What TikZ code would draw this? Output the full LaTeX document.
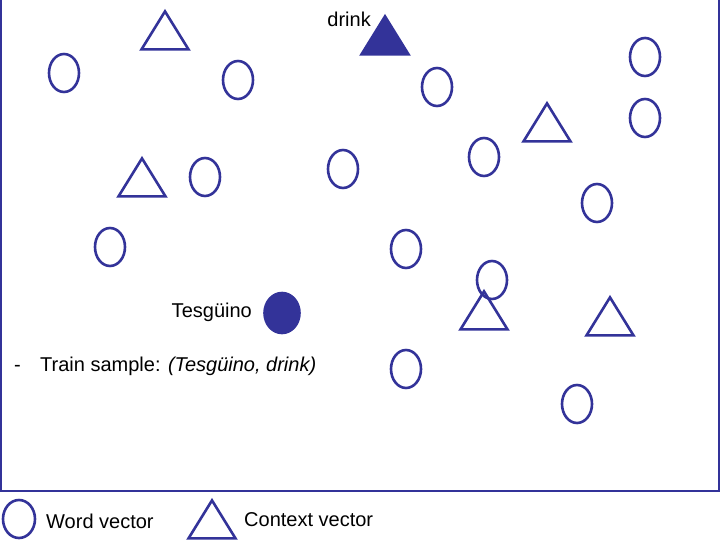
\documentclass[tikz,border=0pt]{standalone}
\usepackage{fontspec}
\setmainfont{Liberation Sans}
\usepackage{tikz}
\usetikzlibrary{shapes.geometric}
\definecolor{vecblue}{HTML}{333399}
\tikzset{
  wvec/.style  = {ellipse, draw=vecblue, line width=2.6pt, inner sep=0pt,
                  minimum width=30pt, minimum height=38pt},
  wvecf/.style = {wvec, fill=vecblue, minimum width=35pt, minimum height=40pt},
  cvec/.style  = {isosceles triangle, isosceles triangle stretches, shape border rotate=90,
                  draw=vecblue, line width=2.6pt, inner sep=0pt, anchor=apex,
                  minimum width=47pt, minimum height=38pt},
  cvecf/.style = {cvec, fill=vecblue},
  lbl/.style   = {font=\fontsize{20}{24}\selectfont, inner sep=0pt},
  frm/.style   = {draw=vecblue, line width=2.6pt},
}

\begin{document}
\begin{tikzpicture}[x=1pt, y=-1pt]
  \useasboundingbox (0,0) rectangle (720,540);

  % frame, open at the top
  \coordinate (ftl) at (1,-10);
  \coordinate (fbl) at (1,491);
  \coordinate (fbr) at (719,491);
  \coordinate (ftr) at (719,-10);
  \draw[frm] (ftl) -- (fbl) -- (fbr) -- (ftr);

  % word vectors
  \node[wvec] (w1)  at (64,73)   {};
  \node[wvec] (w2)  at (238,80)  {};
  \node[wvec] (w3)  at (437,87)  {};
  \node[wvec] (w4)  at (645,57)  {};
  \node[wvec] (w5)  at (645,118) {};
  \node[wvec] (w6)  at (484,157) {};
  \node[wvec] (w7)  at (343,169) {};
  \node[wvec] (w8)  at (205,177) {};
  \node[wvec] (w9)  at (597,203) {};
  \node[wvec] (w10) at (110,247) {};
  \node[wvec] (w11) at (406,249) {};
  \node[wvec] (w12) at (492,280) {};
  \node[wvec] (w13) at (406,369) {};
  \node[wvec] (w14) at (577,404) {};

  % context vectors
  \node[cvec] (c1) at (165,8)   {};
  \node[cvec] (c2) at (547,100) {};
  \node[cvec] (c3) at (142,155) {};
  \node[cvec] (c4) at (484,288) {};
  \node[cvec] (c5) at (610,294) {};

  % train sample
  \node[wvecf] (tes)   at (282,313) {};
  \node[cvecf] (drink) at (385,13)  {};
  \node[lbl, anchor=base east] (tesl)   at (252,317) {Tesgüino};
  \node[lbl, anchor=base east] (drinkl) at (371,27)  {drink};
  \node[lbl, anchor=base west] (dash)   at (14,371)  {-};
  \node[lbl, anchor=base west] (smpl)   at (40,371)  {Train sample: \textit{(Tesgüino, drink)}};

  % legend
  \node[wvec, minimum width=32pt] (lw) at (19,519) {};
  \node[lbl, anchor=base west] (lwl) at (46,528) {Word vector};
  \node[cvec] (lc) at (212,497) {};
  \node[lbl, anchor=base west] (lcl) at (244,526) {Context vector};

\end{tikzpicture}
\end{document}
